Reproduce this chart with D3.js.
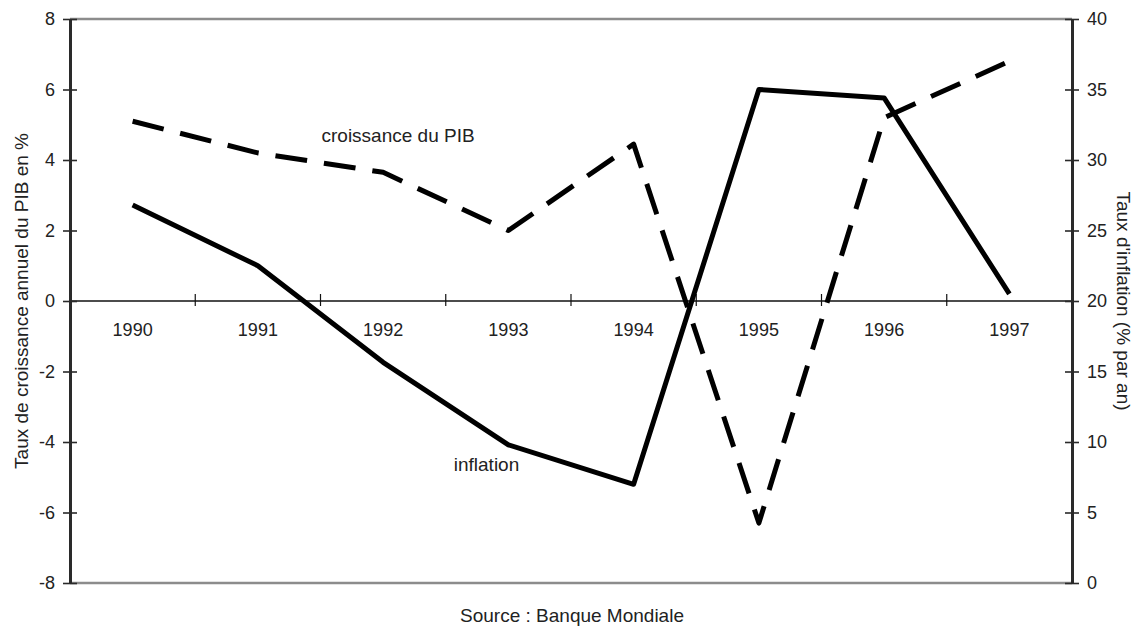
<!DOCTYPE html>
<html>
<head>
<meta charset="utf-8">
<script src="https://cdn.jsdelivr.net/npm/d3@7"></script>
<style>
  body { margin: 0; background: #fff; }
  svg text { font-family: "Liberation Sans", Arial, sans-serif; fill: #222; }
</style>
</head>
<body>
<div id="chart"></div>
<script>
// years on the x axis
var years = ["1990", "1991", "1992", "1993", "1994", "1995", "1996", "1997"];
// croissance du PIB, % (left axis)
var pib = [5.1, 4.2, 3.65, 2.0, 4.45, -6.3, 5.2, 6.8];
// inflation, % par an (right axis)
var inflation = [26.8, 22.5, 15.65, 9.8, 7.0, 35.0, 34.4, 20.5];
var leftTicks = [-8, -6, -4, -2, 0, 2, 4, 6, 8];
var rightTicks = [0, 5, 10, 15, 20, 25, 30, 35, 40];

// plot box (note: "top" is reserved on window, so use p_ prefix)
var p_width = 1144, p_height = 628;
var p_left = 70, p_right = 1072, p_top = 19, p_bottom = 583;

var svg = d3.select("#chart").append("svg")
    .attr("width", p_width)
    .attr("height", p_height);

var x = d3.scaleBand()
    .domain(years)
    .range([p_left, p_right]);

var yL = d3.scaleLinear()
    .domain([-8, 8])
    .range([p_bottom, p_top]);

var yR = d3.scaleLinear()
    .domain([0, 40])
    .range([p_bottom, p_top]);

// plain hyphen for negatives, like the original
var plain = function(d) { return String(d); };

// gray frame top & bottom
svg.append("line")
    .attr("x1", p_left).attr("x2", p_right)
    .attr("y1", p_top).attr("y2", p_top)
    .attr("stroke", "#8c8c8c").attr("stroke-width", 2.5);
svg.append("line")
    .attr("x1", p_left).attr("x2", p_right)
    .attr("y1", p_bottom).attr("y2", p_bottom)
    .attr("stroke", "#8c8c8c").attr("stroke-width", 2.5);

// zero line with year labels
var zeroY = yL(0);
svg.append("line")
    .attr("x1", p_left).attr("x2", p_right)
    .attr("y1", zeroY).attr("y2", zeroY)
    .attr("stroke", "#111").attr("stroke-width", 1.3);

svg.selectAll(".xtick")
    .data(years.slice(1))
    .enter().append("line")
    .attr("class", "xtick")
    .attr("x1", function(d) { return x(d); })
    .attr("x2", function(d) { return x(d); })
    .attr("y1", zeroY - 7)
    .attr("y2", zeroY + 5)
    .attr("stroke", "#111").attr("stroke-width", 1.2);

var xAxis = svg.append("g")
    .attr("transform", "translate(0," + zeroY + ")")
    .call(d3.axisBottom(x).tickSize(0));
xAxis.select(".domain").remove();
xAxis.selectAll("text")
    .style("font-size", "18px")
    .attr("dy", "0.35em")
    .attr("y", 29);

// left axis
var gL = svg.append("g")
    .attr("transform", "translate(" + p_left + ",0)")
    .call(d3.axisLeft(yL).tickValues(leftTicks).tickFormat(plain)
        .tickSizeInner(7).tickSizeOuter(0).tickPadding(8));
gL.select(".domain").attr("stroke", "#2a2a2a").attr("stroke-width", 3);
gL.selectAll(".tick line").attr("x1", 7).attr("stroke", "#2a2a2a").attr("stroke-width", 1.6);
gL.selectAll(".tick text").style("font-size", "18px");

// right axis
var gR = svg.append("g")
    .attr("transform", "translate(" + p_right + ",0)")
    .call(d3.axisRight(yR).tickValues(rightTicks).tickFormat(plain)
        .tickSizeInner(7).tickSizeOuter(0).tickPadding(8));
gR.select(".domain").attr("stroke", "#2a2a2a").attr("stroke-width", 3);
gR.selectAll(".tick line").attr("x1", -7).attr("stroke", "#2a2a2a").attr("stroke-width", 1.6);
gR.selectAll(".tick text").style("font-size", "18px");

// axis titles
svg.append("text")
    .attr("transform", "translate(21," + ((p_top + p_bottom) / 2) + ") rotate(-90)")
    .attr("text-anchor", "middle")
    .attr("dy", "0.35em")
    .style("font-size", "19px")
    .text("Taux de croissance annuel du PIB en %");

svg.append("text")
    .attr("transform", "translate(1124," + ((p_top + p_bottom) / 2) + ") rotate(90)")
    .attr("text-anchor", "middle")
    .attr("dy", "0.35em")
    .style("font-size", "19px")
    .text("Taux d'inflation (% par an)");

// lines
var cx = function(d, i) { return x(years[i]) + x.bandwidth() / 2; };

var linePib = d3.line()
    .x(cx)
    .y(function(d) { return yL(d); });

var lineInf = d3.line()
    .x(cx)
    .y(function(d) { return yR(d); });

svg.append("path")
    .datum(pib)
    .attr("d", linePib)
    .attr("fill", "none")
    .attr("stroke", "#000")
    .attr("stroke-width", 5)
    .attr("stroke-dasharray", "32,17")
    .attr("stroke-linejoin", "round");

svg.append("path")
    .datum(inflation)
    .attr("d", lineInf)
    .attr("fill", "none")
    .attr("stroke", "#000")
    .attr("stroke-width", 5)
    .attr("stroke-linejoin", "round");

// series labels
svg.append("text")
    .attr("x", x("1992") + 1)
    .attr("y", yL(4.7))
    .attr("dy", "0.35em")
    .style("font-size", "19px")
    .text("croissance du PIB");

svg.append("text")
    .attr("x", x("1993") + 8)
    .attr("y", yR(8.45))
    .attr("dy", "0.35em")
    .style("font-size", "19px")
    .text("inflation");

// source
svg.append("text")
    .attr("x", (p_left + p_right) / 2 + 1)
    .attr("y", 615)
    .attr("text-anchor", "middle")
    .attr("dy", "0.35em")
    .style("font-size", "19px")
    .text("Source : Banque Mondiale");
</script>
</body>
</html>
